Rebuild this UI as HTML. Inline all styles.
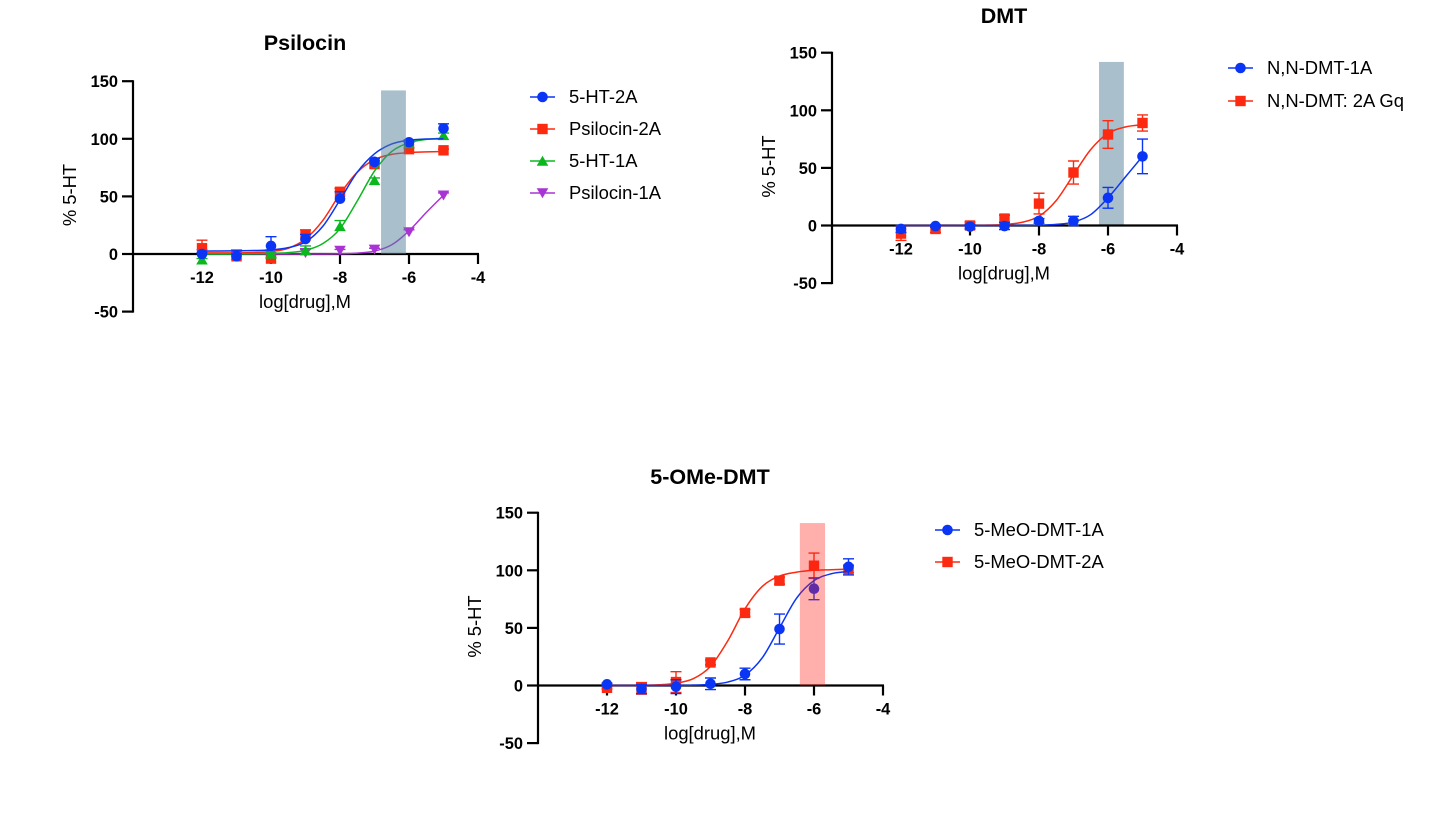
<!DOCTYPE html>
<html lang="en">
<head>
<meta charset="utf-8">
<title>Dose-response curves</title>
<style>
html,body{margin:0;padding:0;background:#fff;width:1456px;height:813px;overflow:hidden}
svg{display:block}
text{font-family:"Liberation Sans",Arial,sans-serif;fill:#000}
.tick{font-size:16.4px;font-weight:bold}
.lab{font-size:18.4px}
.title{font-size:21.5px;font-weight:bold}
</style>
</head>
<body>
<svg id="figure" xmlns="http://www.w3.org/2000/svg" width="1456" height="813" viewBox="0 0 1456 813">
  <rect width="1456" height="813" fill="#fff"/>
  <text class="title" x="305" y="50" text-anchor="middle">Psilocin</text>
  <text class="title" x="1004" y="23" text-anchor="middle">DMT</text>
  <text class="title" x="710" y="484" text-anchor="middle">5-OMe-DMT</text>
</svg>
<script>
var doseLogs = [-12, -11, -10, -9, -8, -7, -6, -5];
var fitLogs = [-12, -11.5, -11, -10.5, -10, -9.5, -9, -8.5, -8, -7.5, -7, -6.5, -6, -5.5, -5];
var xTickLabels = [-12, -10, -8, -6, -4];
var yTickLabels = [150, 100, 50, 0, -50];

var ht2aValues = [0, -2, 7, 13, 48, 80, 97, 109];
var ht2aErrors = [1, 2, 8, 4, 6, 3, 2, 4];
var ht2aFit = [2.5, 2.6, 2.8, 3, 3.6, 5.5, 10.5, 24, 47, 71, 87, 95.5, 98.8, 99.8, 100];
var psi2aValues = [5, -2, -4, 16, 54, 78, 91, 90];
var psi2aErrors = [7, 2, 1, 5, 3, 3, 1, 1];
var psi2aFit = [1, 1, 1, 1.3, 2.2, 5, 13, 29, 52, 71, 82, 86.5, 88, 88.6, 89];
var ht1aValues = [-5, -1, 0, 3, 24, 64, 96, 103];
var ht1aErrors = [1, 1, 1, 4, 5, 2, 1, 2];
var ht1aFit = [0, 0, 0, 0.2, 0.5, 1.2, 3.2, 9, 22, 46, 72, 89, 96.5, 99.5, 100.5];
var psi1aValues = [0, 0, 0, 1, 3, 4, 19, 51];
var psi1aErrors = [1, 1, 1, 3, 1, 1, 2, 2];
var psi1aFit = [0, 0, 0, 0, 0, 0, 0, 0, 0.2, 0.8, 2.5, 8, 20, 36, 51];
var psilocinBand = [-6.81, -6.09, 142];

var dmt1aValues = [-3, -0.5, -1, -0.5, 4, 4, 24, 60];
var dmt1aErrors = [3, 1, 2, 3, 2, 4, 9, 15];
var dmt1aFit = [0, 0, 0, 0, 0, 0, 0, 0.1, 0.3, 1, 3, 9.5, 24, 42, 60];
var dmt2aValues = [-7, -3, 0, 6, 19, 46, 79, 89];
var dmt2aErrors = [6, 3, 3, 3, 9, 10, 12, 7];
var dmt2aFit = [0, 0, 0, 0, 0.1, 0.3, 0.9, 2.7, 8, 21.7, 44, 66, 80, 85.5, 87.5];
var dmtBand = [-6.26, -5.54, 142];

var meo1aValues = [1, -3, -1, 1.5, 10, 49, 84, 103];
var meo1aErrors = [1, 4, 6, 5, 5, 13, 9.5, 7];
var meo1aFit = [0, 0, 0, 0, 0.1, 0.3, 1, 3, 9, 24, 50, 76, 91, 97, 99];
var meo2aValues = [-2, -2.5, 3, 20, 63, 91, 104, 101];
var meo2aErrors = [1, 5, 9, 2, 3, 3, 11, 3];
var meo2aFit = [0, 0, 0, 0.6, 2, 5.9, 16.6, 38.7, 66.6, 86, 95, 98.4, 100, 100.5, 101];
var meoBand = [-6.41, -5.68, 141];

var BLUE = '#0a35f5', RED = '#fb2a10', GREEN = '#0ab81e', PURPLE = '#a934d4';
var NS = 'http://www.w3.org/2000/svg';
var figure = document.getElementById('figure');

function mk(tag, attrs, parent) {
  var e = document.createElementNS(NS, tag);
  for (var k in attrs) e.setAttribute(k, attrs[k]);
  parent.appendChild(e);
  return e;
}

function drawMarker(parent, shape, cx, cy, color) {
  var m;
  if (shape === 'circle') {
    m = mk('circle', {cx: cx, cy: cy, r: 5.3, fill: color}, parent);
  } else if (shape === 'square') {
    m = mk('rect', {x: cx - 5.2, y: cy - 5.2, width: 10.4, height: 10.4, fill: color}, parent);
  } else if (shape === 'up') {
    m = mk('polygon', {points: (cx - 5.8) + ',' + (cy + 4.8) + ' ' + (cx + 5.8) + ',' + (cy + 4.8) + ' ' + cx + ',' + (cy - 5.2), fill: color}, parent);
  } else {
    m = mk('polygon', {points: (cx - 5.8) + ',' + (cy - 4.8) + ' ' + (cx + 5.8) + ',' + (cy - 4.8) + ' ' + cx + ',' + (cy + 5.2), fill: color}, parent);
  }
  
  
  return m;
}

function smoothPath(pts) {
  var d = 'M' + pts[0][0] + ' ' + pts[0][1];
  for (var i = 0; i < pts.length - 1; i++) {
    var p0 = pts[Math.max(0, i - 1)], p1 = pts[i], p2 = pts[i + 1], p3 = pts[Math.min(pts.length - 1, i + 2)];
    var c1x = p1[0] + (p2[0] - p0[0]) / 6, c1y = p1[1] + (p2[1] - p0[1]) / 6;
    var c2x = p2[0] - (p3[0] - p1[0]) / 6, c2y = p2[1] - (p3[1] - p1[1]) / 6;
    d += ' C' + c1x.toFixed(2) + ' ' + c1y.toFixed(2) + ' ' + c2x.toFixed(2) + ' ' + c2y.toFixed(2) + ' ' + p2[0].toFixed(2) + ' ' + p2[1].toFixed(2);
  }
  return d;
}

function drawChart(opt) {
  var xs = function (v) { return opt.left + (v + 14) * 34.5; };
  var ys = function (v) { return opt.zero - v * 1.152; };
  var g = mk('g', {}, figure);
  
  

  function drawBand() {
    var b = mk('rect', {x: xs(opt.band[0]), y: ys(opt.band[2]), width: xs(opt.band[1]) - xs(opt.band[0]), height: ys(0) - ys(opt.band[2]), fill: opt.bandFill}, g);
    
    
  }

  if (!opt.bandOnTop) drawBand();

  var axes = mk('g', {stroke: '#000', 'stroke-width': 2.2, fill: 'none'}, g);
  
  
  mk('line', {x1: xs(-14), x2: xs(-14), y1: ys(150) - 1, y2: ys(-50) + 1}, axes);
  mk('line', {x1: xs(-14), x2: xs(-4) + 1, y1: ys(0), y2: ys(0)}, axes);

  yTickLabels.forEach(function (v) {
    mk('line', {x1: xs(-14) - 11, x2: xs(-14), y1: ys(v), y2: ys(v)}, axes);
    var t = mk('text', {x: xs(-14) - 15, y: ys(v) + 6, 'text-anchor': 'end', 'class': 'tick'}, g);
    
    
    t.textContent = v;
  });
  xTickLabels.forEach(function (v) {
    mk('line', {x1: xs(v), x2: xs(v), y1: ys(0), y2: ys(0) + 10}, axes);
    var t = mk('text', {x: xs(v), y: ys(0) + 29, 'text-anchor': 'middle', 'class': 'tick'}, g);
    
    
    t.textContent = v;
  });

  var xt = mk('text', {x: xs(-14) + 172, y: ys(0) + 54, 'text-anchor': 'middle', 'class': 'lab'}, g);
  
  
  xt.textContent = 'log[drug],M';

  var yx = xs(-14) - 57, yy = ys(0) - 59;
  var yt = mk('text', {x: yx, y: yy, 'text-anchor': 'middle', 'class': 'lab', transform: 'rotate(-90 ' + yx + ' ' + yy + ')'}, g);
  
  
  yt.textContent = '% 5-HT';

  opt.series.forEach(function (s) {
    var sg = mk('g', {}, g);
    
    
    var pts = fitLogs.map(function (x, i) { return [xs(x), ys(s.fit[i])]; });
    var curve = mk('path', {d: smoothPath(pts), fill: 'none', stroke: s.color, 'stroke-width': 1.5}, sg);
    
    
    doseLogs.forEach(function (x, i) {
      var cx = xs(x), hi = ys(s.values[i] + s.errors[i]), lo = opt.above ? ys(s.values[i]) : ys(s.values[i] - s.errors[i]);
      var eb = mk('path', {d: 'M' + cx + ' ' + hi + 'V' + lo + 'M' + (cx - 5.5) + ' ' + hi + 'H' + (cx + 5.5) + (opt.above ? '' : 'M' + (cx - 5.5) + ' ' + lo + 'H' + (cx + 5.5)), fill: 'none', stroke: s.color, 'stroke-width': 1.4}, sg);
      
      
      drawMarker(sg, s.shape, cx, ys(s.values[i]), s.color);
    });
  });

  if (opt.bandOnTop) drawBand();

  var legend = mk('g', {}, g);
  
  
  opt.legendOrder.forEach(function (s, i) {
    var ly = opt.legendY + i * opt.legendGap;
    var lg = mk('g', {}, legend);
    
    
    mk('line', {x1: opt.legendX, x2: opt.legendX + 25, y1: ly, y2: ly, stroke: s.color, 'stroke-width': 1.5}, lg);
    drawMarker(lg, s.shape, opt.legendX + 12.5, ly, s.color);
    var t = mk('text', {x: opt.legendX + 39, y: ly + 6, 'class': 'lab'}, lg);
    
    
    t.textContent = s.label;
  });
}

var sHt2a = {label: '5-HT-2A', color: BLUE, shape: 'circle', values: ht2aValues, errors: ht2aErrors, fit: ht2aFit};
var sPsi2a = {label: 'Psilocin-2A', color: RED, shape: 'square', values: psi2aValues, errors: psi2aErrors, fit: psi2aFit};
var sHt1a = {label: '5-HT-1A', color: GREEN, shape: 'up', values: ht1aValues, errors: ht1aErrors, fit: ht1aFit};
var sPsi1a = {label: 'Psilocin-1A', color: PURPLE, shape: 'down', values: psi1aValues, errors: psi1aErrors, fit: psi1aFit};
var sDmt1 = {label: 'N,N-DMT-1A', color: BLUE, shape: 'circle', values: dmt1aValues, errors: dmt1aErrors, fit: dmt1aFit};
var sDmt2 = {label: 'N,N-DMT: 2A Gq', color: RED, shape: 'square', values: dmt2aValues, errors: dmt2aErrors, fit: dmt2aFit};
var sMeo1 = {label: '5-MeO-DMT-1A', color: BLUE, shape: 'circle', values: meo1aValues, errors: meo1aErrors, fit: meo1aFit};
var sMeo2 = {label: '5-MeO-DMT-2A', color: RED, shape: 'square', values: meo2aValues, errors: meo2aErrors, fit: meo2aFit};

drawChart({name: 'psilocin', left: 133, zero: 254, band: psilocinBand, bandFill: 'rgba(83,127,153,0.5)', bandOnTop: true, above: true,
  series: [sPsi2a, sPsi1a, sHt1a, sHt2a], legendOrder: [sHt2a, sPsi2a, sHt1a, sPsi1a], legendX: 530, legendY: 97, legendGap: 32});
drawChart({name: 'dmt', left: 832, zero: 225.5, band: dmtBand, bandFill: '#a9bfcc', bandOnTop: false, above: false,
  series: [sDmt2, sDmt1], legendOrder: [sDmt1, sDmt2], legendX: 1228, legendY: 68, legendGap: 33});
drawChart({name: '5-ome-dmt', left: 538, zero: 685.5, band: meoBand, bandFill: 'rgba(255,30,20,0.35)', bandOnTop: true, above: false,
  series: [sMeo2, sMeo1], legendOrder: [sMeo1, sMeo2], legendX: 935, legendY: 530, legendGap: 32});
</script>
</body>
</html>
